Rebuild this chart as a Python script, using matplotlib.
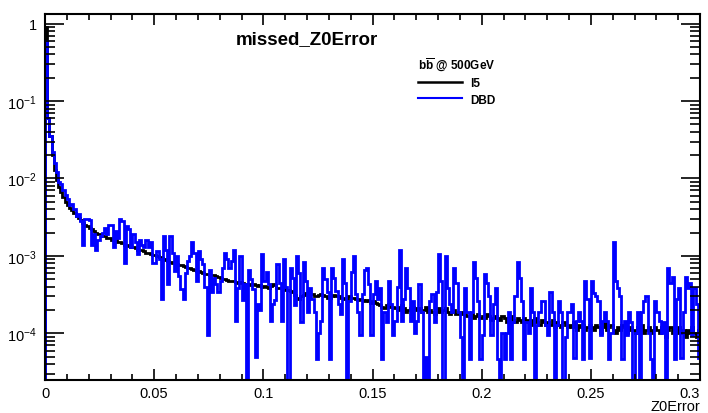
import numpy as np
import matplotlib
matplotlib.use("Agg")
import matplotlib.pyplot as plt
from matplotlib.lines import Line2D
from matplotlib.ticker import LogLocator, MultipleLocator, FuncFormatter, NullFormatter

plt.rcParams["font.family"] = ["Liberation Sans", "DejaVu Sans"]
plt.rcParams["mathtext.fontset"] = "custom"
plt.rcParams["mathtext.rm"] = "Liberation Sans"
plt.rcParams["mathtext.bf"] = "Liberation Sans:bold"
plt.rcParams["mathtext.it"] = "Liberation Sans:italic"

# histogram binning (300 bins of 0.001 over 0..0.3)
x_min, x_max, n_bins = 0.0, 0.3, 300

# l5 model, normalised entries per bin (one row = 0.01 in Z0Error)
i5 = [
    0.9, 0.06, 0.035, 0.02, 0.013, 0.0095, 0.0078, 0.0066, 0.0058, 0.0049,
    0.0045, 0.0042, 0.0039, 0.0036, 0.0033, 0.0031, 0.0029, 0.0027, 0.0025, 0.0024,
    0.0023, 0.0022, 0.0021, 0.002, 0.0019, 0.0019, 0.0018, 0.0018, 0.0017, 0.0017,
    0.0016, 0.00165, 0.0016, 0.0015, 0.0015, 0.00145, 0.0014, 0.0014, 0.00135, 0.0013,
    0.0013, 0.00125, 0.0012, 0.0012, 0.00118, 0.00115, 0.0011, 0.0011, 0.00107, 0.00104,
    0.00102, 0.001, 0.00097, 0.00094, 0.0009, 0.00088, 0.00086, 0.00084, 0.00082, 0.0008,
    0.00079, 0.00077, 0.00076, 0.00074, 0.00072, 0.0007, 0.00069, 0.00068, 0.00066, 0.00064,
    0.00063, 0.00062, 0.0006, 0.00059, 0.00058, 0.00057, 0.00057, 0.00056, 0.00055, 0.00053,
    0.00052, 0.0005, 0.0005, 0.00049, 0.00048, 0.00047, 0.00047, 0.00046, 0.00045, 0.00046,
    0.00045, 0.00044, 0.00043, 0.00044, 0.00042, 0.00043, 0.00042, 0.00041, 0.00042, 0.0004,
    0.00041, 0.0004, 0.00039, 0.00041, 0.00043, 0.00042, 0.00039, 0.00038, 0.00038, 0.00037,
    0.00036, 0.00036, 0.00035, 0.00034, 0.00031, 0.00029, 0.00028, 0.0003, 0.00031, 0.00033,
    0.00033, 0.00032, 0.00032, 0.0003, 0.0003, 0.00031, 0.00032, 0.00031, 0.0003, 0.00029,
    0.00029, 0.0003, 0.00031, 0.0003, 0.0003, 0.00029, 0.00029, 0.00028, 0.00028, 0.0003,
    0.00029, 0.00029, 0.00028, 0.00027, 0.00028, 0.00027, 0.00026, 0.00027, 0.00026, 0.00025,
    0.00026, 0.00025, 0.00024, 0.00023, 0.00022, 0.00021, 0.00023, 0.00024, 0.00022, 0.00022,
    0.00021, 0.0002, 0.00022, 0.00023, 0.00021, 0.00019, 0.0002, 0.00021, 0.00022, 0.00021,
    0.0002, 0.00021, 0.00019, 0.0002, 0.00022, 0.00019, 0.0002, 0.00019, 0.00018, 0.00019,
    0.00021, 0.00019, 0.0002, 0.00021, 0.00019, 0.00018, 0.00019, 0.0002, 0.00018, 0.00019,
    0.00018, 0.00019, 0.00018, 0.00017, 0.00017, 0.00018, 0.00016, 0.00017, 0.00018, 0.00016,
    0.00017, 0.00016, 0.00018, 0.00017, 0.00015, 0.00016, 0.00017, 0.00016, 0.00015, 0.00017,
    0.00016, 0.00014, 0.00016, 0.00017, 0.00015, 0.00014, 0.00016, 0.00015, 0.00014, 0.00016,
    0.00015, 0.00014, 0.00015, 0.00013, 0.00016, 0.00014, 0.00013, 0.00015, 0.00014, 0.00013,
    0.00014, 0.00013, 0.00015, 0.00012, 0.00014, 0.00013, 0.00012, 0.00014, 0.00013, 0.00012,
    0.00013, 0.00012, 0.00014, 0.00011, 0.00013, 0.00012, 0.00013, 0.00011, 0.00012, 0.00013,
    0.00012, 0.00011, 0.00013, 0.00012, 0.0001, 0.00012, 0.00014, 0.00011, 0.00012, 0.00013,
    0.00011, 0.0001, 0.00012, 0.00011, 0.00013, 0.00012, 0.0001, 0.00011, 0.00012, 0.00011,
    0.0001, 0.00012, 0.00011, 0.00013, 0.0001, 0.00011, 0.00012, 0.0001, 0.00011, 0.00012,
    0.00011, 0.0001, 0.00012, 0.00011, 0.00009, 0.00011, 0.00012, 0.0001, 0.00011, 0.0001,
    0.00012, 0.0001, 0.00011, 0.00009, 0.00011, 0.0001, 0.00012, 0.0001, 0.00009, 0.00011,
]

# DBD model, normalised entries per bin (low statistics, 0 = empty bin)
dbd = [
    0.6, 0.06, 0.035, 0.022, 0.016, 0.012, 0.009, 0.0085, 0.007, 0.0062,
    0.0055, 0.0045, 0.0047, 0.004, 0.0033, 0.0035, 0.0028, 0.0014, 0.003, 0.003,
    0.0029, 0.0014, 0.0019, 0.0012, 0.0016, 0.0018, 0.002, 0.0023, 0.0019, 0.0025,
    0.0025, 0.0013, 0.0021, 0.0017, 0.003, 0.0028, 0.0008, 0.0024, 0.0022, 0.0013,
    0.0019, 0.0015, 0.00106, 0.0016, 0.0014, 0.0013, 0.0016, 0.0013, 0.0015, 0.0008,
    0.0008, 0.00116, 0.0009, 0.00028, 0.00183, 0.0012, 0.00043, 0.0018, 0.0011, 0.00063,
    0.001, 0.00055, 0.00037, 0.00028, 0.0006, 0.00087, 0.001, 0.0015, 0.0011, 0.00048,
    0.00116, 0.0009, 0.00079, 0.0004, 0.000095, 0.00065, 0.00034, 0.00052, 0.00043, 0.00034,
    0.00048, 0.0007, 0.0011, 0.0009, 0.0007, 0.00085, 0.0012, 0.000145, 0.00038, 0.001,
    0.00027, 0.00043, 0, 0.00065, 0.0005, 0.00037, 0.00005, 0.00024, 0.0002, 0.00105,
    0.00048, 0.00062, 0.00043, 0.000145, 0.00024, 0.00027, 0.00079, 0.00045, 0.000145, 0.0009,
    0.0004, 0, 0.0007, 0.00052, 0.00023, 0.001, 0.0006, 0.00014, 0.00084, 0.00047,
    0.00019, 0.00039, 0.00028, 0.00019, 0.000046, 0.0001, 0.000145, 0.0007, 0.0005, 0.00034,
    0.000046, 0.0007, 0.00052, 0.00035, 0.00024, 0.00018, 0.0009, 0.00045, 0, 0.00026,
    0.00062, 0.001, 0.00032, 0.00019, 0.000095, 0.00032, 0.00065, 0.0007, 0.00043, 0.000095,
    0.00032, 0.00048, 0.00028, 0.00039, 0.000046, 0.00019, 0.00014, 0.00048, 0.00024, 0.000095,
    0.000145, 0.0004, 0.00118, 0.000145, 0.00028, 0.0007, 0.00038, 0.000145, 0.00026, 0.0001,
    0.000145, 0.00043, 0.00019, 0, 0.00005, 0, 0.00026, 0.00032, 0.00014, 0.00034,
    0.00106, 0.00048, 0, 0.001, 0.00039, 0.00024, 0.00019, 0.0007, 0.00045, 0.00019,
    0.00009, 0, 0.00039, 0.00019, 0.000046, 0.00019, 0.00083, 0.00052, 0.00026, 0.000046,
    0.000095, 0.00059, 0.00045, 0.0003, 0.000095, 0.00024, 0.00039, 0.000046, 0, 0.0001,
    0.000046, 0.0001, 0.00019, 0.000046, 0.00014, 0.0003, 0.00083, 0.00052, 0.00026, 0.000046,
    0.00014, 0.0001, 0.00039, 0.00019, 0, 0.00013, 0.00019, 0.00026, 0.00026, 0.00013,
    0.000095, 0.00034, 0.00019, 0, 0.00013, 0.00026, 0.00019, 0, 0.00009, 0.00019,
    0.00019, 0.00024, 0.000048, 0.000145, 0.00019, 0.000145, 0.000046, 0.00048, 0.00028, 0.000048,
    0.00048, 0.00033, 0.0003, 0.00026, 0.000095, 0.000145, 0.00019, 0.000145, 0.000046, 0.0001,
    0.0015, 0.00048, 0.00038, 0.0003, 0.000046, 0.000145, 0.000095, 0.00019, 0.00014, 0,
    0.0001, 0.00019, 0, 0.00019, 0.00026, 0.0003, 0.0001, 0.000046, 0, 0.00026,
    0.00019, 0.000145, 0.0001, 0.00014, 0, 0.0007, 0.00045, 0.00054, 0.000046, 0.00028,
    0.00039, 0.000048, 0.00019, 0.00054, 0.00039, 0.00045, 0.000095, 0.00039, 0.00024, 0.000048,
]

x_ticks = [0, 0.05, 0.1, 0.15, 0.2, 0.25, 0.3]
series_labels = ["l5", "DBD"]
series_colors = ["black", "blue"]

edges = np.linspace(x_min, x_max, n_bins + 1)
floor = 1e-8  # empty bins drop below the frame, like ROOT

fig = plt.figure(figsize=(7.08, 4.14), dpi=100)
ax = fig.add_axes([45 / 708, 33 / 414, 655 / 708, 366 / 414])

for vals, col in zip([i5, dbd], series_colors):
    v = np.asarray(vals, dtype=float)
    ax.stairs(np.where(v > 0, v, floor), edges, baseline=floor,
              color=col, lw=2.0)

ax.set_yscale("log")
ax.set_xlim(x_min, x_max)
ax.set_ylim(2.5e-5, 1.33)

ax.set_xticks(x_ticks)
ax.set_xticklabels([f"{t:g}" for t in x_ticks])
ax.xaxis.set_minor_locator(MultipleLocator(0.01))
ax.yaxis.set_major_locator(LogLocator(base=10))
ax.yaxis.set_minor_locator(LogLocator(base=10, subs=np.arange(2, 10)))
ax.yaxis.set_minor_formatter(NullFormatter())


def log_label(v, pos):
    e = int(round(np.log10(v)))
    return "1" if e == 0 else rf"$10^{{{e}}}$"


ax.yaxis.set_major_formatter(FuncFormatter(log_label))

for side in ax.spines.values():
    side.set_linewidth(1.5)
ax.tick_params(axis="both", which="both", direction="in", top=True, right=True,
               labelsize=10.5, width=1.2)
ax.tick_params(axis="y", which="major", length=14, pad=6)
ax.tick_params(axis="y", which="minor", length=7)
ax.tick_params(axis="x", which="major", length=8, pad=4)
ax.tick_params(axis="x", which="minor", length=4)
# last x label sits inside the frame edge
ax.get_xticklabels()[-1].set_horizontalalignment("right")

fig.text(307 / 708, 1 - 40 / 414, "missed_Z0Error", ha="center", va="center",
         fontsize=13.5, fontweight="bold")
fig.text(700 / 708, 1 - 407 / 414, "Z0Error", ha="right", va="center", fontsize=10.5)

handles = [Line2D([], [], color="black", lw=1.8), Line2D([], [], color="blue", lw=1.5)]
fig.legend(handles, series_labels, loc="upper left",
           bbox_to_anchor=(418 / 708, 1 - 57 / 414),
           title=r"$\mathbf{b}\overline{\mathbf{b}}$ @ 500GeV",
           title_fontproperties={"weight": "bold", "size": 8.5},
           prop={"weight": "bold", "size": 8.5},
           frameon=False, alignment="left", handlelength=3.7, handletextpad=0.7,
           labelspacing=0.35, borderpad=0, borderaxespad=0)

fig.savefig("out.png", dpi=100)
